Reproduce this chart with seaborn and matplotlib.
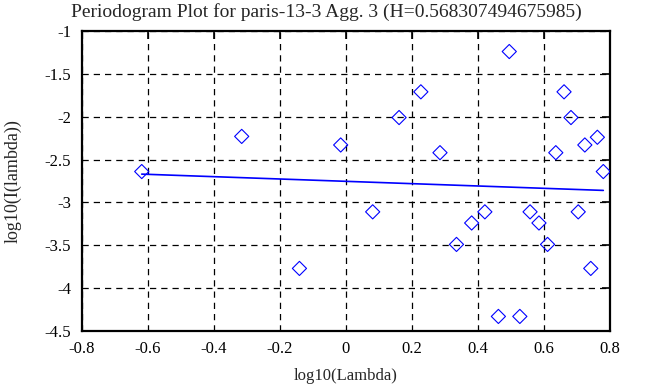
import numpy as np
import pandas as pd
import matplotlib
matplotlib.use("Agg")
import matplotlib.pyplot as plt
import seaborn as sns

# values
log_lambda = [-0.619, -0.316, -0.141, -0.016, 0.081, 0.161, 0.227, 0.285, 0.335,
              0.381, 0.421, 0.462, 0.495, 0.527, 0.558, 0.585, 0.611, 0.636,
              0.661, 0.682, 0.704, 0.724, 0.742, 0.762, 0.780]
log_I = [-2.64, -2.23, -3.77, -2.33, -3.11, -2.01, -1.71, -2.42, -3.49,
         -3.24, -3.11, -4.33, -1.24, -4.33, -3.11, -3.24, -3.49, -2.42,
         -1.71, -2.01, -3.11, -2.33, -3.77, -2.24, -2.64]
fit_x = [-0.619, 0.780]
fit_y = [-2.67, -2.86]

xticks = [-0.8, -0.6, -0.4, -0.2, 0, 0.2, 0.4, 0.6, 0.8]
yticks = [-4.5, -4, -3.5, -3, -2.5, -2, -1.5, -1]

sns.set_style("white")
plt.rcParams["font.family"] = ["Liberation Serif", "DejaVu Serif"]

df = pd.DataFrame({"x": log_lambda, "y": log_I})

fig = plt.figure(figsize=(6.53, 3.87), dpi=100)
ax = fig.add_axes([0.1256, 0.1447, 0.8084, 0.7753])

sns.scatterplot(data=df, x="x", y="y", marker="D", s=52,
                facecolors="none", edgecolor="#0000ff", linewidth=0.8,
                ax=ax, zorder=3)
sns.lineplot(x=fit_x, y=fit_y, color="#0000ff", linewidth=1.2, ax=ax, zorder=2)

ax.set_xlim(-0.8, 0.8)
ax.set_ylim(-4.5, -1)
ax.set_xticks(xticks)
ax.set_yticks(yticks)
ax.set_xticklabels(["-0.8", "-0.6", "-0.4", "-0.2", "0", "0.2", "0.4", "0.6", "0.8"])
ax.set_yticklabels(["-4.5", "-4", "-3.5", "-3", "-2.5", "-2", "-1.5", "-1"])
ax.tick_params(direction="in", length=6, width=1.2, top=True, right=True,
               labelsize=12, colors="black")
ax.tick_params(axis="x", pad=7)
ax.tick_params(axis="y", pad=8)
ax.grid(True, color="black", linestyle=(0, (5, 4)), linewidth=0.9)
for sp in ax.spines.values():
    sp.set_linewidth(1.6)
    sp.set_color("black")

# title is centred on the whole figure in the original
fig.text(0.5, 0.968, "Periodogram Plot for paris-13-3 Agg. 3 (H=0.568307494675985)",
         fontsize=14, ha="center", va="center")
ax.set_xlabel("log10(Lambda)", fontsize=12, labelpad=8)
ax.set_ylabel("log10(I(lambda))", fontsize=13, labelpad=16)

fig.savefig("out.png", dpi=100)
